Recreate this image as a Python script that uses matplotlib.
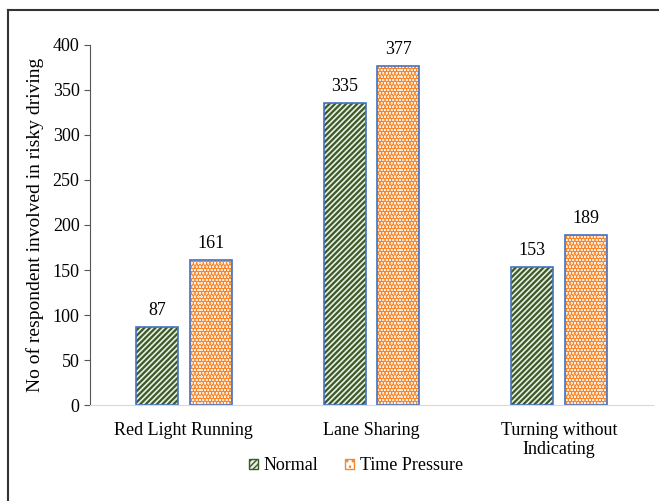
import numpy as np
import matplotlib.pyplot as plt
from matplotlib.patches import Patch
from matplotlib.lines import Line2D

plt.rcParams['font.family'] = ['Liberation Serif', 'DejaVu Serif']

# data
categories = ['Red Light Running', 'Lane Sharing', 'Turning without\nIndicating']
normal = [87, 335, 153]
time_pressure = [161, 377, 189]

fig = plt.figure(figsize=(6.59, 5.01), dpi=100)
ax = fig.add_axes([0.1366, 0.1916, 0.8543, 0.7186])

x = np.arange(len(categories))
w = 0.224
off = 0.143
edge = '#4472c4'
green_bg = '#e8eee2'
green = '#3b5a28'
orange = '#f7862a'

# Normal bars: green stripes
with plt.rc_context({'hatch.linewidth': 1.6}):
    ax.bar(x - off, normal, w, color=green_bg, edgecolor=green, hatch='//////', linewidth=0)
    h1 = Patch(facecolor=green_bg, edgecolor=green, hatch='//////')
ax.bar(x - off, normal, w, fill=False, edgecolor=edge, linewidth=1.2)
# Time pressure bars: orange dots
with plt.rc_context({'hatch.linewidth': 2.8}):
    ax.bar(x + off, time_pressure, w, color='white', edgecolor=orange, hatch='.....', linewidth=0)
    h2 = Patch(facecolor='white', edgecolor=orange, hatch='...')
ax.bar(x + off, time_pressure, w, fill=False, edgecolor=edge, linewidth=1.2)

for xi, v in zip(x - off, normal):
    ax.text(xi, v + 9, str(v), ha='center', va='bottom', fontsize=13)
for xi, v in zip(x + off, time_pressure):
    ax.text(xi, v + 9, str(v), ha='center', va='bottom', fontsize=13)

ax.set_xlim(-0.5, 2.5)
ax.set_ylim(0, 400)
ax.set_yticks(np.arange(0, 401, 50))
ax.set_xticks(x)
ax.set_xticklabels(categories, fontsize=13, linespacing=1.15)
ax.tick_params(axis='y', labelsize=13, length=4, color='#555555')
ax.tick_params(axis='x', length=0, pad=12)
ax.set_ylabel('No of respondent involved in risky driving', fontsize=14, labelpad=6)

for s in ['top', 'right']:
    ax.spines[s].set_visible(False)
ax.spines['left'].set_color('#555555')
ax.spines['bottom'].set_color('#d9d9d9')

fig.legend([h1, h2], ['Normal', 'Time Pressure'], loc='center', bbox_to_anchor=(0.54, 0.07),
           ncol=2, frameon=False, fontsize=13, handlelength=0.5, handleheight=0.5,
           columnspacing=1.5, handletextpad=0.3, borderpad=0)

# chart area border (left and top only visible)
fig.add_artist(Line2D([0.0115, 0.0115], [0.0, 0.98], color='#333333', lw=1.5))
fig.add_artist(Line2D([0.0115, 1.0], [0.98, 0.98], color='#333333', lw=1.5))

fig.savefig('out.png', dpi=100)
